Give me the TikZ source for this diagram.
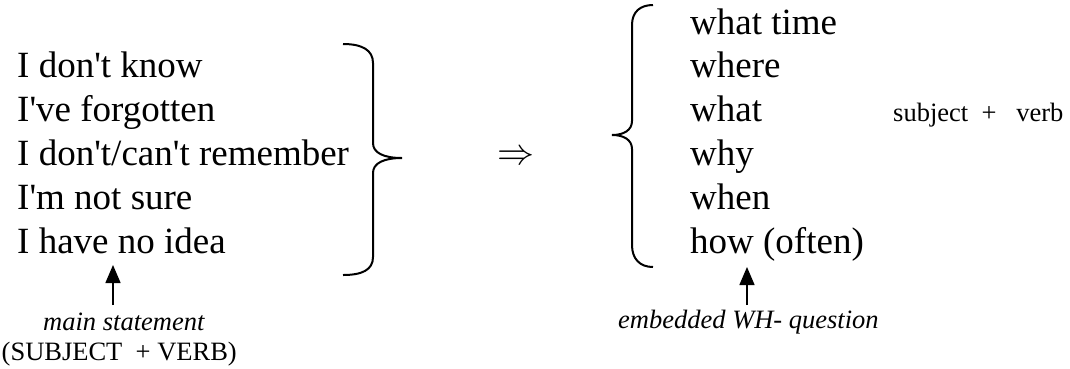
\documentclass[tikz,border=0pt]{standalone}
\usepackage{fontspec}
\setmainfont{Liberation Serif}[Ligatures=TeXOff]
\usetikzlibrary{arrows.meta}
\begin{document}
\begin{tikzpicture}[x=1pt,y=-1pt,
  big/.style={anchor=base west,inner sep=0pt,font=\fontsize{37}{44}\selectfont},
  small/.style={anchor=base west,inner sep=0pt,font=\fontsize{26.5}{32}\selectfont},
  note/.style={small,font=\fontsize{26.5}{32}\selectfont\itshape},
  curly/.style={line width=2pt},
  up/.style={line width=1.5pt,-{Triangle[length=18pt,width=15pt]}}]
\useasboundingbox (0,0) rectangle (1070,368);
% main statements, left column
\foreach \t [count=\i] in {I don't know,I've forgotten,I don't/can't remember,I'm not sure,I have no idea}
  \node[big] (m\i) at (17,{34+43.8*\i}) {\t};
% question words, right column
\foreach \t [count=\i from 0] in {what time,where,what,why,when,how (often)}
  \node[big] (w\i) at (690,{34+43.8*\i}) {\t};
% closing brace
\draw[curly] (343,44) .. controls (362,44) and (373,50) .. (373,63) -- (373,143)
  .. controls (373,153) and (384,158) .. (402,158)
  .. controls (384,158) and (373,163) .. (373,173) -- (373,257)
  .. controls (373,270) and (362,275) .. (343,275);
% opening brace
\draw[curly] (653,5) .. controls (640,5) and (632,12) .. (632,25) -- (632,121)
  .. controls (632,130) and (624,135) .. (612,135)
  .. controls (624,135) and (632,140) .. (632,149) -- (632,245)
  .. controls (632,259) and (640,267) .. (653,267);
\node[inner sep=0pt,scale=3.7] (impl) at (515.5,158) {$\Rightarrow$};
\node[small] (sv) at (893,121.6) {subject\ \ +\ \ \ verb};
% labels under the columns
\node[note] (main) at (43,330) {main statement};
\node[small] (form) at (1.5,360) {(SUBJECT\ \ + VERB)};
\node[note] (emb) at (618,328) {embedded WH- question};
\coordinate (lfoot) at (113,305);
\coordinate (ltip) at (113,265);
\coordinate (rfoot) at (747,305);
\coordinate (rtip) at (747,267);
\draw[up] (lfoot) -- (ltip);
\draw[up] (rfoot) -- (rtip);
\end{tikzpicture}
\end{document}
